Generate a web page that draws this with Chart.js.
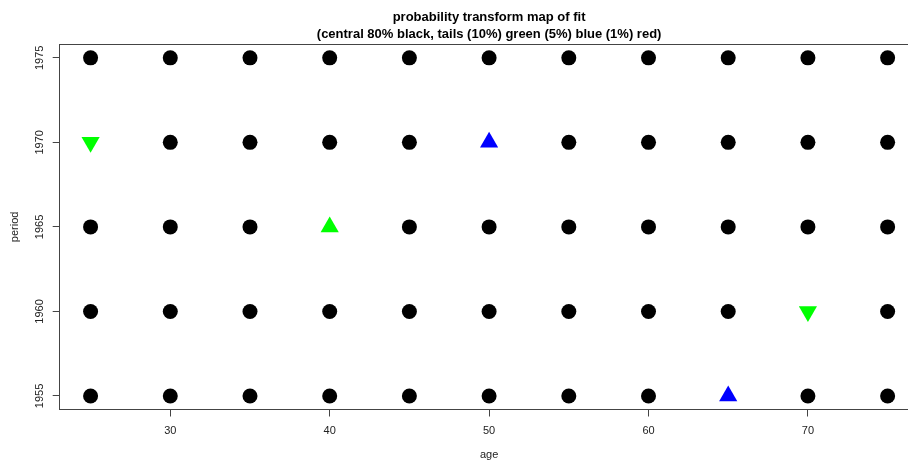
<!DOCTYPE html>
<html>
<head>
<meta charset="utf-8">
<title>probability transform map of fit</title>
<script src="https://cdn.jsdelivr.net/npm/chart.js@4/dist/chart.umd.min.js"></script>
<style>
  html, body { margin: 0; padding: 0; background: #fff; overflow: hidden; }
  #wrap { width: 930px; height: 462px; }
</style>
</head>
<body>
<div id="wrap"><canvas id="ptmap" width="930" height="462"></canvas></div>
<script>
// grid of cells: age groups x periods
const ages = [25, 30, 35, 40, 45, 50, 55, 60, 65, 70, 75];
const periods = [1955, 1960, 1965, 1970, 1975];
const ageTicks = [30, 40, 50, 60, 70];
const periodTicks = [1955, 1960, 1965, 1970, 1975];

// cells falling in the tails; everything else is in the central 80%
const greenUp = [{ age: 40, period: 1965 }];
const greenDown = [{ age: 25, period: 1970 }, { age: 70, period: 1960 }];
const blueUp = [{ age: 50, period: 1970 }, { age: 65, period: 1955 }];
const blueDown = [];
const redUp = [];
const redDown = [];

const flagged = [...greenUp, ...greenDown, ...blueUp, ...blueDown, ...redUp, ...redDown];
const isFlagged = (a, p) => flagged.some(c => c.age === a && c.period === p);

const central = [];
for (const p of periods) {
    for (const a of ages) {
        if (!isFlagged(a, p)) central.push({ age: a, period: p });
    }
}

const toXY = cells => cells.map(c => ({ x: c.age, y: c.period }));

function markerSet(label, cells, color, style, radius, rotation) {
    return {
        label: label,
        data: toXY(cells),
        pointStyle: style,
        pointRadius: radius,
        pointHoverRadius: radius,
        pointRotation: rotation,
        backgroundColor: color,
        borderColor: color,
        borderWidth: 0
    };
}

const axisColor = '#444';

// rotated period labels on the left axis
const verticalTickLabels = {
    id: 'verticalTickLabels',
    afterDraw(chart) {
        const ctx = chart.ctx;
        const ys = chart.scales.y;
        ctx.save();
        ctx.fillStyle = '#222';
        ctx.font = '11px "Liberation Sans", Arial, sans-serif';
        ctx.textAlign = 'center';
        ctx.textBaseline = 'middle';
        periodTicks.forEach(v => {
            const py = ys.getPixelForValue(v);
            ctx.save();
            ctx.translate(40, py);
            ctx.rotate(-Math.PI / 2);
            ctx.fillText(String(v), 0, 0);
            ctx.restore();
        });
        ctx.restore();
    }
};

// box around the plot region
const plotBox = {
    id: 'plotBox',
    afterDraw(chart) {
        const a = chart.chartArea;
        const ctx = chart.ctx;
        ctx.save();
        ctx.strokeStyle = axisColor;
        ctx.lineWidth = 1;
        ctx.strokeRect(Math.round(a.left) + 0.5, Math.round(a.top) + 0.5,
            Math.round(a.right - a.left), Math.round(a.bottom - a.top));
        ctx.restore();
    }
};

Chart.defaults.font.family = '"Liberation Sans", Arial, sans-serif';
Chart.defaults.color = '#222';

new Chart(document.getElementById('ptmap'), {
    type: 'scatter',
    data: {
        datasets: [
            markerSet('central 80%', central, '#000000', 'circle', 7.5, 0),
            markerSet('tails 10% high', greenUp, '#00FF00', 'triangle', 10.5, 0),
            markerSet('tails 10% low', greenDown, '#00FF00', 'triangle', 10.5, 180),
            markerSet('tails 5% high', blueUp, '#0000FF', 'triangle', 10.5, 0),
            markerSet('tails 5% low', blueDown, '#0000FF', 'triangle', 10.5, 180),
            markerSet('tails 1% high', redUp, '#FF0000', 'triangle', 10.5, 0),
            markerSet('tails 1% low', redDown, '#FF0000', 'triangle', 10.5, 180)
        ]
    },
    options: {
        responsive: false,
        animation: false,
        layout: { padding: { top: 0, right: 0, bottom: 0, left: 0 } },
        plugins: {
            legend: { display: false },
            tooltip: { enabled: false },
            title: {
                display: true,
                fullSize: false,
                text: ['probability transform map of fit',
                       '(central 80% black, tails (10%) green (5%) blue (1%) red)'],
                color: '#000',
                font: { size: 13, weight: 'bold', lineHeight: 1.3 },
                padding: { top: 9, bottom: 1.5 }
            }
        },
        scales: {
            x: {
                type: 'linear',
                min: 23,
                max: 77,
                afterBuildTicks: scale => { scale.ticks = ageTicks.map(v => ({ value: v })); },
                afterFit: scale => { scale.height = 52.5; },
                ticks: { font: { size: 11 }, padding: 8, maxRotation: 0, autoSkip: false },
                grid: { drawOnChartArea: false, drawTicks: true, tickLength: 7, color: axisColor },
                border: { display: false },
                title: { display: true, text: 'age', font: { size: 11 }, padding: { top: 0, bottom: 0 } }
            },
            y: {
                type: 'linear',
                min: 1954.2,
                max: 1975.8,
                afterBuildTicks: scale => { scale.ticks = periodTicks.map(v => ({ value: v })); },
                afterFit: scale => { scale.width = 58.7; },
                ticks: { display: false },
                grid: { drawOnChartArea: false, drawTicks: true, tickLength: 6, color: axisColor },
                border: { display: false },
                title: { display: true, text: 'period', font: { size: 11 }, padding: { top: 8, bottom: 0 } }
            }
        }
    },
    plugins: [verticalTickLabels, plotBox]
});
</script>
</body>
</html>
